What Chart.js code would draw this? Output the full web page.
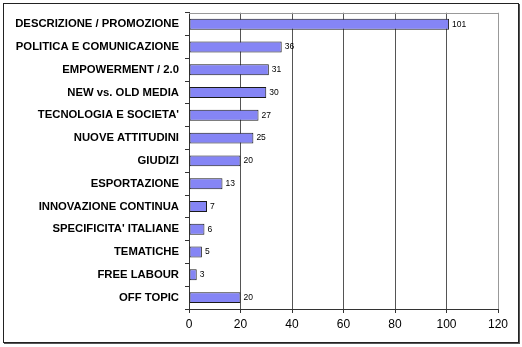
<!DOCTYPE html>
<html>
<head>
<meta charset="utf-8">
<script src="https://cdn.jsdelivr.net/npm/chart.js@4.4.0/dist/chart.umd.min.js"></script>
<style>
  html, body { margin: 0; padding: 0; background: #fff; }
  #wrap { position: relative; width: 522px; height: 347px; }
</style>
</head>
<body>
<div id="wrap"><canvas id="c" width="522" height="347"></canvas></div>
<script>
// Topic categories and the number of items in each
const categories = [
  'DESCRIZIONE / PROMOZIONE',
  'POLITICA E COMUNICAZIONE',
  'EMPOWERMENT / 2.0',
  'NEW vs. OLD MEDIA',
  "TECNOLOGIA E SOCIETA'",
  'NUOVE ATTITUDINI',
  'GIUDIZI',
  'ESPORTAZIONE',
  'INNOVAZIONE CONTINUA',
  "SPECIFICITA' ITALIANE",
  'TEMATICHE',
  'FREE LABOUR',
  'OFF TOPIC'
];
const counts = [101, 36, 31, 30, 27, 25, 20, 13, 7, 6, 5, 3, 20];
const xTicks = [0, 20, 40, 60, 80, 100, 120];

const FONT = '"Liberation Sans", Arial, Helvetica, sans-serif';

// Outer frame of the chart area plus the top edge of the plot
const framePlugin = {
  id: 'frame',
  afterDraw(chart) {
    const ctx = chart.ctx;
    const a = chart.chartArea;
    ctx.save();
    ctx.strokeStyle = '#999';
    ctx.lineWidth = 1;
    ctx.beginPath();
    ctx.moveTo(a.left, Math.round(a.top) + 0.5);
    ctx.lineTo(a.right, Math.round(a.top) + 0.5);
    ctx.stroke();
    ctx.strokeStyle = '#222';
    ctx.lineWidth = 1;
    ctx.strokeRect(3.5, 3.5, 515, 339);
    ctx.strokeStyle = '#555';
    ctx.beginPath();
    ctx.moveTo(519.5, 4); ctx.lineTo(519.5, 344);
    ctx.moveTo(4, 343.5); ctx.lineTo(520, 343.5);
    ctx.stroke();
    ctx.restore();
  }
};

// Value printed just right of each bar
const valueLabels = {
  id: 'valueLabels',
  afterDatasetsDraw(chart) {
    const ctx = chart.ctx;
    const meta = chart.getDatasetMeta(0);
    ctx.save();
    ctx.font = '8.5px ' + FONT;
    ctx.fillStyle = '#000';
    ctx.textAlign = 'left';
    ctx.textBaseline = 'middle';
    meta.data.forEach((bar, i) => {
      ctx.fillText(String(counts[i]), bar.x + 3, bar.y);
    });
    ctx.restore();
  }
};

new Chart(document.getElementById('c'), {
  type: 'bar',
  data: {
    labels: categories,
    datasets: [{
      data: counts,
      backgroundColor: '#8585F5',
      borderColor: '#1a1a1a',
      borderWidth: 1,
      borderSkipped: false,
      barPercentage: 0.48,
      categoryPercentage: 1
    }]
  },
  options: {
    indexAxis: 'y',
    responsive: false,
    animation: false,
    devicePixelRatio: 1,
    layout: { padding: { left: 4, top: 12, right: 24, bottom: 4 } },
    plugins: { legend: { display: false }, tooltip: { enabled: false } },
    scales: {
      x: {
        min: 0,
        max: 120,
        afterBuildTicks(scale) { scale.ticks = xTicks.map(v => ({ value: v })); },
        afterFit(scale) { scale.height = 34; },
        grid: {
          color: ctx => (ctx.tick && ctx.tick.value === 120) ? '#999' : '#555',
          tickColor: '#333',
          tickLength: 4,
          drawTicks: true
        },
        border: { color: '#333' },
        ticks: {
          font: { family: FONT, size: 12 },
          color: '#000',
          padding: 4
        }
      },
      y: {
        afterFit(scale) { scale.width = 185; },
        grid: {
          drawOnChartArea: false,
          offset: true,
          tickLength: 4,
          tickColor: '#333'
        },
        border: { color: '#333' },
        ticks: {
          font: { family: FONT, size: 11.3, weight: 'bold' },
          color: '#000',
          padding: 6,
          autoSkip: false
        }
      }
    }
  },
  plugins: [framePlugin, valueLabels]
});
</script>
</body>
</html>
